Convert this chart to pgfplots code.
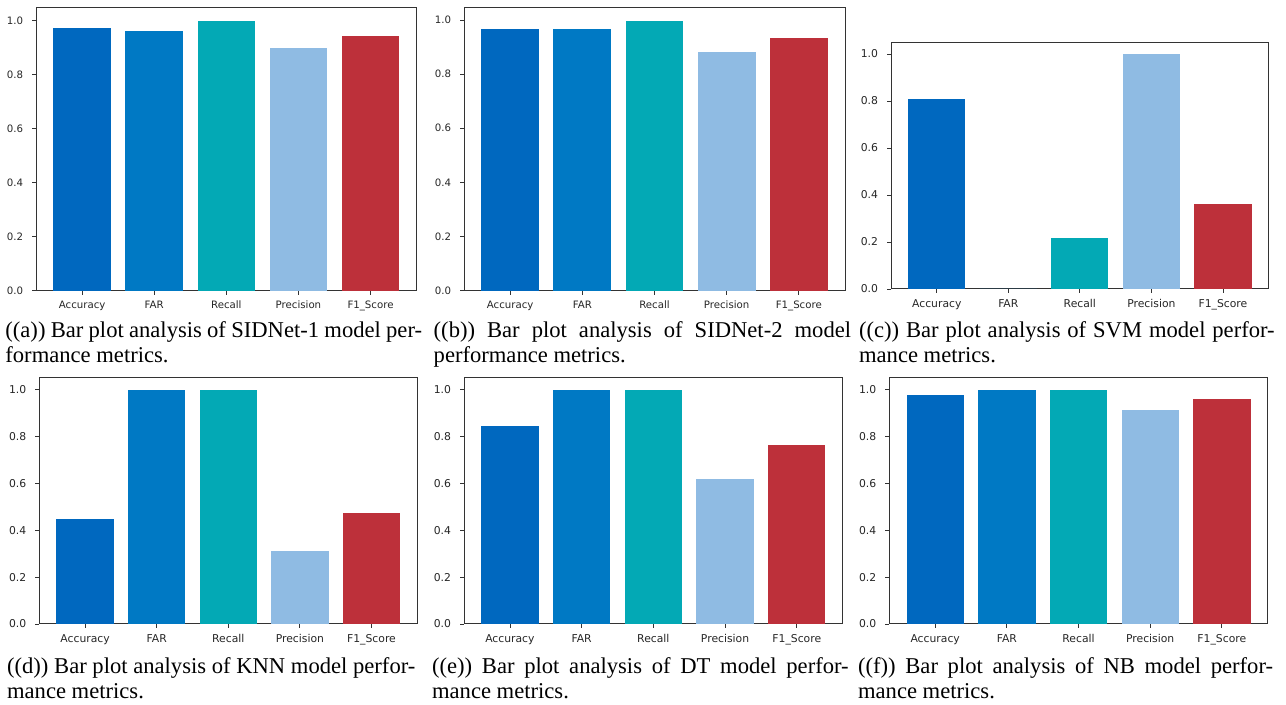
\documentclass[border=0pt]{standalone}
\usepackage{fontspec}
\setmainfont{Liberation Serif}
\newfontfamily\dejavu{DejaVu Sans}
\usepackage{pgfplots}
\pgfplotsset{compat=1.18}
\definecolor{cAcc}{RGB}{0,104,191}
\definecolor{cFAR}{RGB}{0,121,196}
\definecolor{cRec}{RGB}{3,169,181}
\definecolor{cPre}{RGB}{143,187,227}
\definecolor{cF1}{RGB}{189,48,58}
\pgfplotsset{
  barpanel/.style={
    scale only axis, ybar, bar width=0.8,
    xmin=-0.64, xmax=4.64, ymin=0, ymax=1.05,
    xtick={0,1,2,3,4},
    xticklabels={Accuracy,FAR,Recall,Precision,F1\_Score},
    ytick={0,0.2,0.4,0.6,0.8,1.0},
    yticklabel style={/pgf/number format/fixed, /pgf/number format/fixed zerofill, /pgf/number format/precision=1},
    /pgf/number format/assume math mode=true,
    tick align=outside, tick pos=left,
    major tick length=2pt,
    tick style={black!80, line width=0.4pt},
    axis line style={black!80, line width=0.5pt},
    ticklabel style={font=\dejavu\fontsize{#1}{#1}\selectfont, text=black!85, inner sep=0pt},
    yticklabel style={anchor=east, xshift=-4.3pt},
    xticklabel style={anchor=north, yshift=-3pt},
    axis background/.style={fill=white},
  },
  barpanel/.default=5,
}
\newcommand{\bars}[5]{%
  \addplot[fill=cAcc, draw=none, bar shift=0pt] coordinates {(0,#1)};
  \addplot[fill=cFAR, draw=none, bar shift=0pt] coordinates {(1,#2)};
  \addplot[fill=cRec, draw=none, bar shift=0pt] coordinates {(2,#3)};
  \addplot[fill=cPre, draw=none, bar shift=0pt] coordinates {(3,#4)};
  \addplot[fill=cF1, draw=none, bar shift=0pt] coordinates {(4,#5)};
}
\newcommand{\subcap}[6]{% x, y1, y2, width, line1, line2
  \node[anchor=base west, inner sep=0pt, font=\fontsize{11.3}{12}\selectfont] at (#1,#2) {\makebox[#4][s]{#5}};
  \node[anchor=base west, inner sep=0pt, font=\fontsize{11.3}{12}\selectfont] at (#1,#3) {#6};
}
\begin{document}
\begin{tikzpicture}
\useasboundingbox (0,0) rectangle (643pt,352.5pt);
% (a)
\begin{axis}[barpanel=5.1, at={(18pt,207.15pt)}, anchor=south west, width=190.35pt, height=141.7pt, ymax=1.049]
\bars{0.973}{0.962}{0.999}{0.899}{0.944}
\end{axis}
% (b)
\begin{axis}[barpanel=5.1, at={(232pt,207.15pt)}, anchor=south west, width=190.5pt, height=141.7pt, ymax=1.047]
\bars{0.966}{0.966}{0.997}{0.881}{0.935}
\end{axis}
% (c)
\begin{axis}[barpanel=5.4, at={(445.5pt,208pt)}, anchor=south west, width=188.85pt, height=123.35pt]
\bars{0.809}{0}{0.219}{1.0}{0.360}
\end{axis}
% (d)
\begin{axis}[barpanel=5.4, at={(19.65pt,40.5pt)}, anchor=south west, width=189pt, height=123pt]
\bars{0.450}{1.0}{1.0}{0.310}{0.474}
\end{axis}
% (e)
\begin{axis}[barpanel=5.4, at={(232pt,40.5pt)}, anchor=south west, width=189.35pt, height=123pt]
\bars{0.846}{1.0}{1.0}{0.620}{0.764}
\end{axis}
% (f)
\begin{axis}[barpanel=5.4, at={(444.65pt,40.5pt)}, anchor=south west, width=189.2pt, height=123pt]
\bars{0.977}{1.0}{1.0}{0.914}{0.959}
\end{axis}
\subcap{2.5pt}{183.5pt}{171.15pt}{208.35pt}{((a)) Bar plot analysis of SIDNet-1 model per-}{formance metrics.}
\subcap{216.65pt}{183.5pt}{171.15pt}{208.7pt}{((b)) Bar plot analysis of SIDNet-2 model}{performance metrics.}
\subcap{429.35pt}{183.5pt}{171.15pt}{207.8pt}{((c)) Bar plot analysis of SVM model perfor-}{mance metrics.}
\subcap{3.35pt}{15.85pt}{3.35pt}{204.15pt}{((d)) Bar plot analysis of KNN model perfor-}{mance metrics.}
\subcap{215.85pt}{15.85pt}{3.35pt}{208.3pt}{((e)) Bar plot analysis of DT model perfor-}{mance metrics.}
\subcap{428.85pt}{15.85pt}{3.35pt}{207.5pt}{((f)) Bar plot analysis of NB model perfor-}{mance metrics.}
\end{tikzpicture}
\end{document}
